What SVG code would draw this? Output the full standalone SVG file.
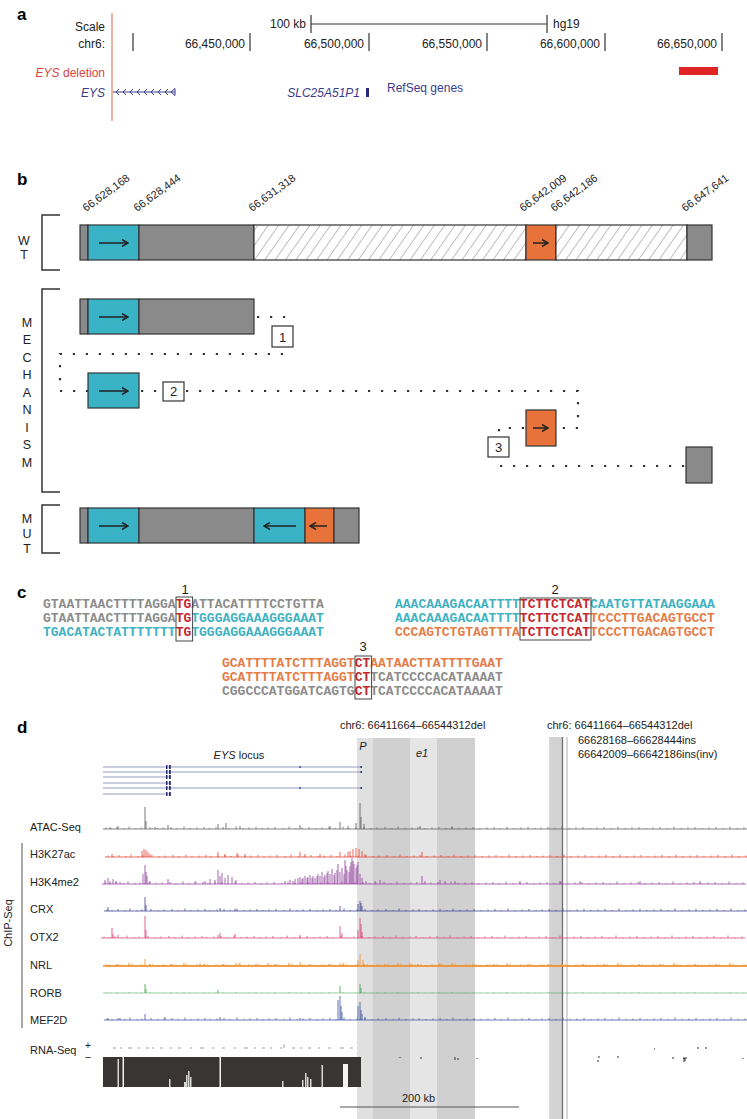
<svg xmlns="http://www.w3.org/2000/svg" xmlns:xlink="http://www.w3.org/1999/xlink" width="747" height="1119" viewBox="0 0 747 1119">
<style>
text{font-family:"Liberation Sans",Arial,sans-serif;fill:#222}
.pl{font-size:17px;font-weight:bold;fill:#000}
.s12{font-size:12px}
.nv{fill:#3a3a8a}
.it{font-style:italic}
.bx{stroke:#333;stroke-width:1.2}
.gr{fill:#8a8a8a}
.cy{fill:#3bb3c6}
.or{fill:#e8733a}
.arr{stroke:#222;stroke-width:1.5;fill:none}
.dot{stroke:#333;stroke-width:2.2;stroke-dasharray:2.2 10.8;fill:none}
.lab{font-size:11px}
.seq{font-family:"Liberation Mono","Courier New",monospace;font-size:13px;font-weight:bold}
.sg{fill:#8c8c8c}.sc{fill:#3fb2c2}.so{fill:#e57c46}.sr{fill:#c4262e}
.sbox{fill:none;stroke:#444;stroke-width:1}
.trk{fill:none;stroke-width:0.8}
.rot{font-size:11px}
.let{font-size:12.5px;text-anchor:middle}
</style>
<defs>
<pattern id="hatch" width="8.5" height="8.5" patternUnits="userSpaceOnUse" patternTransform="rotate(35)">
<rect width="8.5" height="8.5" fill="#fff"/>
<line x1="0" y1="0" x2="0" y2="8.5" stroke="#b8b8b8" stroke-width="1.8"/>
</pattern>
<marker id="ah" markerWidth="8" markerHeight="8" refX="7" refY="4" orient="auto" markerUnits="userSpaceOnUse">
<path d="M1,0.5 L7,4 L1,7.5" fill="none" stroke="#222" stroke-width="1.5"/>
</marker>
<path id="noise" d="M103,0H747M106,0v-1.5M111,0v-1M117,0v-2M124,0v-1M129,0v-2.5M136,0v-1M141,0v-1.5M150,0v-2M157,0v-1M163,0v-1.5M171,0v-2M177,0v-1M184,0v-2.5M190,0v-1M197,0v-1.5M204,0v-2M209,0v-1M216,0v-1.5M223,0v-2M229,0v-1M236,0v-2.5M243,0v-1M249,0v-1.5M256,0v-2M262,0v-1M268,0v-1.5M275,0v-2M283,0v-1M289,0v-2.5M296,0v-1M302,0v-1.5M309,0v-2M316,0v-1M322,0v-1.5M329,0v-2M335,0v-1M343,0v-2.5M349,0v-1M356,0v-1.5M364,0v-2M371,0v-1M377,0v-1.5M385,0v-2M392,0v-1M398,0v-2.5M405,0v-1M412,0v-1.5M418,0v-2M425,0v-1M432,0v-1.5M439,0v-2M446,0v-1M452,0v-2.5M459,0v-1M466,0v-1.5M473,0v-2M480,0v-1M487,0v-1.5M494,0v-2M500,0v-1M507,0v-2.5M514,0v-1M521,0v-1.5M528,0v-2M535,0v-1M541,0v-1.5M548,0v-2M555,0v-1M562,0v-2.5M569,0v-1M576,0v-1.5M583,0v-2M590,0v-1M597,0v-1.5M604,0v-2M611,0v-1M618,0v-2.5M625,0v-1M632,0v-1.5M639,0v-2M646,0v-1M653,0v-1.5M660,0v-2M667,0v-1M674,0v-2.5M681,0v-1M688,0v-1.5M695,0v-2M702,0v-1M709,0v-1.5M716,0v-2M723,0v-1M730,0v-2.5M737,0v-1M744,0v-1.5"/>
</defs>

<!-- ================= PANEL A ================= -->
<g id="panel-a">
<text class="pl" x="17" y="20">a</text>
<text class="s12" x="105" y="31" text-anchor="end">Scale</text>
<text class="s12" x="105" y="48" text-anchor="end">chr6:</text>
<g stroke="#333" stroke-width="1.2">
<line x1="133" y1="33" x2="133" y2="51"/>
<line x1="250" y1="33" x2="250" y2="51"/>
<line x1="369" y1="33" x2="369" y2="51"/>
<line x1="487" y1="33" x2="487" y2="51"/>
<line x1="605" y1="33" x2="605" y2="51"/>
<line x1="722" y1="33" x2="722" y2="51"/>
<line x1="311" y1="24" x2="547" y2="24" stroke-width="1"/>
<line x1="311" y1="15" x2="311" y2="33"/>
<line x1="547" y1="15" x2="547" y2="33"/>
</g>
<text class="s12" x="245" y="48" text-anchor="end">66,450,000</text>
<text class="s12" x="364" y="48" text-anchor="end">66,500,000</text>
<text class="s12" x="482" y="48" text-anchor="end">66,550,000</text>
<text class="s12" x="600" y="48" text-anchor="end">66,600,000</text>
<text class="s12" x="717" y="48" text-anchor="end">66,650,000</text>
<text class="s12" x="306" y="28" text-anchor="end">100 kb</text>
<text class="s12" x="553" y="28">hg19</text>
<line x1="112" y1="13" x2="112" y2="121" stroke="#e39a8a" stroke-width="1.5"/>
<text class="s12" x="105" y="77" text-anchor="end" style="fill:#d9453c"><tspan class="it" style="fill:#d9453c">EYS</tspan> deletion</text>
<rect x="679" y="67" width="39" height="8" fill="#e02424"/>
<text class="s12 nv it" x="105" y="97" text-anchor="end">EYS</text>
<g stroke="#3a3a8a" stroke-width="1" fill="none">
<line x1="113" y1="92" x2="175" y2="92"/>
<path d="M119,89L116,92L119,95M126,89L123,92L126,95M133,89L130,92L133,95M140,89L137,92L140,95M147,89L144,92L147,95M154,89L151,92L154,95M161,89L158,92L161,95M168,89L165,92L168,95M175,88.5L171,92L175,95.5Z"/>
</g>
<text class="s12 nv it" x="360" y="97" text-anchor="end">SLC25A51P1</text>
<rect x="366" y="88" width="3" height="9" fill="#2a2a7a"/>
<text class="s12 nv" x="387" y="92">RefSeq genes</text>
</g>

<!-- ================= PANEL B ================= -->
<text class="pl" x="17" y="185">b</text>
<g id="coords" class="rot">
<text transform="translate(86,212) rotate(-36)">66,628,168</text>
<text transform="translate(137,212) rotate(-36)">66,628,444</text>
<text transform="translate(252,212) rotate(-36)">66,631,318</text>
<text transform="translate(523,212) rotate(-36)">66,642,009</text>
<text transform="translate(554,212) rotate(-36)">66,642,186</text>
<text transform="translate(685,212) rotate(-36)">66,647,641</text>
</g>
<g id="bracket-wt">
<path d="M60,215H42V270H60" fill="none" stroke="#333" stroke-width="1.5"/>
<text class="let" x="24" y="245">W</text>
<text class="let" x="24" y="258.5">T</text>
</g>
<g id="wt-bar">
<rect class="bx gr" x="80" y="225" width="8" height="35"/>
<rect class="bx cy" x="88" y="225" width="51" height="35"/>
<rect class="bx gr" x="139" y="225" width="115" height="35"/>
<rect class="bx" x="254" y="225" width="272" height="35" fill="url(#hatch)"/>
<rect class="bx or" x="526" y="225" width="30" height="35"/>
<rect class="bx" x="556" y="225" width="131" height="35" fill="url(#hatch)"/>
<rect class="bx gr" x="687" y="225" width="25" height="35"/>
<line class="arr" x1="99" y1="243" x2="128" y2="243" marker-end="url(#ah)"/>
<line class="arr" x1="533" y1="243" x2="548" y2="243" marker-end="url(#ah)"/>
</g>
<g id="bracket-mech">
<path d="M60,289H42V492H60" fill="none" stroke="#333" stroke-width="1.5"/>
<text class="let" x="27" y="327">M</text>
<text class="let" x="27" y="344">E</text>
<text class="let" x="27" y="362">C</text>
<text class="let" x="27" y="379">H</text>
<text class="let" x="27" y="397">A</text>
<text class="let" x="27" y="414">N</text>
<text class="let" x="27" y="432">I</text>
<text class="let" x="27" y="449">S</text>
<text class="let" x="27" y="467">M</text>
</g>
<g id="mech-seg1">
<rect class="bx gr" x="80" y="299" width="8" height="35"/>
<rect class="bx cy" x="88" y="299" width="51" height="35"/>
<rect class="bx gr" x="139" y="299" width="115" height="35"/>
<line class="arr" x1="99" y1="317" x2="128" y2="317" marker-end="url(#ah)"/>
</g>
<g id="mech-seg2">
<rect class="bx cy" x="88" y="373" width="51" height="35"/>
<line class="arr" x1="99" y1="391" x2="128" y2="391" marker-end="url(#ah)"/>
</g>
<g id="mech-seg3">
<rect class="bx or" x="526" y="410" width="30" height="36"/>
<line class="arr" x1="533" y1="428" x2="548" y2="428" marker-end="url(#ah)"/>
</g>
<g id="mech-seg4">
<rect class="bx gr" x="686" y="447" width="26" height="36"/>
</g>
<g id="connectors">
<path class="dot" d="M257,317H286"/>
<path class="dot" d="M283,354H60V391H88"/>
<path class="dot" d="M141,391H163"/>
<path class="dot" d="M186,391H578V428H556"/>
<path class="dot" d="M524,428H499V436"/>
<path class="dot" d="M500,466H686"/>
</g>
<g id="junction-1"><rect x="272" y="326" width="21" height="21" fill="#fff" stroke="#333" stroke-width="1.2"/><text x="282.5" y="341.5" font-size="13" text-anchor="middle">1</text></g>
<g id="junction-2"><rect x="163" y="382" width="21" height="19" fill="#fff" stroke="#333" stroke-width="1.2"/><text x="173.5" y="396" font-size="13" text-anchor="middle">2</text></g>
<g id="junction-3"><rect x="488" y="437" width="21" height="20" fill="#fff" stroke="#333" stroke-width="1.2"/><text x="498.5" y="452" font-size="13" text-anchor="middle">3</text></g>
<g id="bracket-mut">
<path d="M60,505H42V553H60" fill="none" stroke="#333" stroke-width="1.5"/>
<text class="let" x="27" y="523">M</text>
<text class="let" x="27" y="538">U</text>
<text class="let" x="27" y="553">T</text>
</g>
<g id="mut-bar">
<rect class="bx gr" x="80" y="508" width="8" height="35"/>
<rect class="bx cy" x="88" y="508" width="51" height="35"/>
<rect class="bx gr" x="139" y="508" width="115" height="35"/>
<rect class="bx cy" x="254" y="508" width="51" height="35"/>
<rect class="bx or" x="305" y="508" width="29" height="35"/>
<rect class="bx gr" x="334" y="508" width="25" height="35"/>
<line class="arr" x1="99" y1="526" x2="128" y2="526" marker-end="url(#ah)"/>
<line class="arr" x1="296" y1="526" x2="264" y2="526" marker-end="url(#ah)"/>
<line class="arr" x1="327" y1="526" x2="310" y2="526" marker-end="url(#ah)"/>
</g>

<!-- ================= PANEL C ================= -->
<text class="pl" x="17" y="598">c</text>
<g id="seq-1">
<text x="185" y="594" font-size="13" text-anchor="middle">1</text>
<text class="seq" x="43" y="608"><tspan class="sg">GTAATTAACTTTTAGGA</tspan><tspan class="sr">TG</tspan><tspan class="sg">ATTACATTTTCCTGTTA</tspan></text>
<text class="seq" x="43" y="622"><tspan class="sg">GTAATTAACTTTTAGGA</tspan><tspan class="sr">TG</tspan><tspan class="sc">TGGGAGGAAAGGGAAAT</tspan></text>
<text class="seq" x="43" y="636"><tspan class="sc">TGACATACTATTTTTTT</tspan><tspan class="sr">TG</tspan><tspan class="sc">TGGGAGGAAAGGGAAAT</tspan></text>
<rect class="sbox" x="176" y="597" width="16.6" height="44"/>
</g>
<g id="seq-2">
<text x="555" y="594" font-size="13" text-anchor="middle">2</text>
<text class="seq" x="395" y="608"><tspan class="sc">AAACAAAGACAATTTT</tspan><tspan class="sr">TCTTCTCAT</tspan><tspan class="sc">CAATGTTATAAGGAAA</tspan></text>
<text class="seq" x="395" y="622"><tspan class="sc">AAACAAAGACAATTTT</tspan><tspan class="sr">TCTTCTCAT</tspan><tspan class="so">TCCCTTGACAGTGCCT</tspan></text>
<text class="seq" x="395" y="636"><tspan class="so">CCCAGTCTGTAGTTTA</tspan><tspan class="sr">TCTTCTCAT</tspan><tspan class="so">TCCCTTGACAGTGCCT</tspan></text>
<rect class="sbox" x="520" y="598" width="71" height="42"/>
</g>
<g id="seq-3">
<text x="363" y="651" font-size="13" text-anchor="middle">3</text>
<text class="seq" x="222" y="667"><tspan class="so">GCATTTTATCTTTAGGT</tspan><tspan class="sr">CT</tspan><tspan class="so">AATAACTTATTTTGAAT</tspan></text>
<text class="seq" x="222" y="681"><tspan class="so">GCATTTTATCTTTAGGT</tspan><tspan class="sr">CT</tspan><tspan class="sg">TCATCCCCACATAAAAT</tspan></text>
<text class="seq" x="222" y="695"><tspan class="sg">CGGCCCATGGATCAGTG</tspan><tspan class="sr">CT</tspan><tspan class="sg">TCATCCCCACATAAAAT</tspan></text>
<rect class="sbox" x="355" y="656" width="16.6" height="43"/>
</g>

<!-- ================= PANEL D ================= -->
<text class="pl" x="17" y="733">d</text>
<g id="shading">
<rect x="357" y="738" width="16" height="381" fill="#e0e0e0"/>
<rect x="373" y="738" width="37" height="381" fill="#d0d0d0"/>
<rect x="410" y="738" width="27" height="381" fill="#e5e5e5"/>
<rect x="437" y="738" width="38" height="381" fill="#d0d0d0"/>
<rect x="551" y="737" width="11" height="382" fill="#d2d2d2"/>
<line x1="550" y1="737" x2="550" y2="1119" stroke="#9a9a9a" stroke-width="0.8"/>
<line x1="567" y1="737" x2="567" y2="1119" stroke="#9a9a9a" stroke-width="0.8"/>
<line x1="562.5" y1="737" x2="562.5" y2="1119" stroke="#6e6e6e" stroke-width="1.3"/>
</g>
<text class="lab" x="340" y="729">chr6: 66411664–66544312del</text>
<text class="lab" x="547" y="729">chr6: 66411664–66544312del</text>
<text class="lab" x="578" y="744">66628168–66628444ins</text>
<text class="lab" x="578" y="758">66642009–66642186ins(inv)</text>
<text class="lab it" x="363" y="750" text-anchor="middle">P</text>
<text class="lab it" x="422" y="757" text-anchor="middle">e1</text>
<g id="eys-locus">
<text class="lab" x="239" y="759" text-anchor="middle"><tspan class="it">EYS</tspan> locus</text>
<g stroke="#7c82b2" stroke-width="0.8">
<line x1="103" y1="767" x2="362" y2="767"/>
<line x1="103" y1="772" x2="362" y2="772"/>
<line x1="103" y1="777" x2="171" y2="777"/>
<line x1="103" y1="783" x2="171" y2="783"/>
<line x1="103" y1="788" x2="362" y2="788"/>
<line x1="103" y1="794" x2="171" y2="794"/>
</g>
<g fill="#2d2f70">
<rect x="166" y="765" width="1.5" height="4"/><rect x="169" y="765" width="1.8" height="4"/>
<rect x="166" y="770" width="1.5" height="4"/><rect x="169" y="770" width="1.8" height="4"/>
<rect x="166" y="775" width="1.5" height="4"/><rect x="169" y="775" width="1.8" height="4"/>
<rect x="166" y="781" width="1.5" height="4"/><rect x="169" y="781" width="1.8" height="4"/>
<rect x="166" y="786" width="1.5" height="4"/><rect x="169" y="786" width="1.8" height="4"/>
<rect x="166" y="792" width="1.5" height="4"/><rect x="169" y="792" width="1.8" height="4"/>
<rect x="299.5" y="766" width="1.2" height="2"/><rect x="299.5" y="787" width="1.2" height="2"/>
<rect x="360.5" y="766" width="1.5" height="2"/><rect x="360.5" y="771" width="1.5" height="2"/><rect x="360.5" y="787" width="1.5" height="2"/>
</g>
</g>
<g id="track-labels" class="lab">
<text x="30" y="831">ATAC-Seq</text>
<text x="30" y="858">H3K27ac</text>
<text x="30" y="886">H3K4me2</text>
<text x="30" y="913">CRX</text>
<text x="30" y="941">OTX2</text>
<text x="30" y="969">NRL</text>
<text x="30" y="997">RORB</text>
<text x="30" y="1024">MEF2D</text>
<text x="30" y="1054">RNA-Seq</text>
<text x="88" y="1049" font-size="10" text-anchor="middle">+</text>
<text x="88" y="1060" font-size="10" text-anchor="middle">–</text>
</g>
<g id="chip-bracket">
<line x1="22" y1="843" x2="22" y2="1028" stroke="#555" stroke-width="1"/>
<text class="lab" transform="translate(12,923) rotate(-90)" text-anchor="middle">ChIP-Seq</text>
</g>
<g id="tracks" class="trk">
<use xlink:href="#noise" transform="translate(0,829)" stroke="#666"/>
<path stroke="#555" d="M110,829v-2M118,829v-3M145,829v-22M146,829v-8M155,829v-2M168,829v-4M218,829v-5M226,829v-6M240,829v-3M300,829v-4M330,829v-3M340,829v-7M348,829v-3M356,829v-6M360,829v-26M361,829v-12M364,829v-5M420,829v-3M452,829v-2"/>
<use xlink:href="#noise" transform="translate(2,857)" stroke="#e7463a"/>
<path stroke="#e53a2e" d="M112,857v-3M142,857v-6M144,857v-8M146,857v-7M148,857v-5M150,857v-3M218,857v-5M225,857v-3M237,857v-4M245,857v-3M300,857v-5M305,857v-3M320,857v-3M340,857v-5M348,857v-5M350,857v-6M353,857v-8M356,857v-9M359,857v-8M362,857v-6M365,857v-3M422,857v-5"/>
<use xlink:href="#noise" transform="translate(-1,884)" stroke="#9a4aa4"/>
<path stroke="#8e3c9a" d="M105,884v-4M108,884v-6M110,884v-3M113,884v-5M116,884v-3M120,884v-2M143,884v-10M145,884v-19M146,884v-12M147,884v-8M150,884v-3M168,884v-5M195,884v-3M205,884v-3M210,884v-5M215,884v-4M218,884v-14M220,884v-8M222,884v-11M225,884v-6M228,884v-9M232,884v-7M236,884v-4M285,884v-3M290,884v-4M293,884v-3M295,884v-5M298,884v-6M300,884v-7M302,884v-5M303,884v-6M305,884v-8M307,884v-6M308,884v-7M310,884v-9M312,884v-6M313,884v-8M315,884v-6M317,884v-8M318,884v-10M320,884v-8M322,884v-12M324,884v-7M325,884v-9M327,884v-11M328,884v-13M330,884v-10M332,884v-15M334,884v-9M335,884v-11M337,884v-14M338,884v-20M340,884v-12M342,884v-16M344,884v-10M345,884v-24M346,884v-18M347,884v-14M349,884v-12M350,884v-18M351,884v-22M352,884v-26M353,884v-23M354,884v-20M356,884v-16M357,884v-19M358,884v-22M360,884v-10M362,884v-6M366,884v-3M375,884v-3M380,884v-4M422,884v-8M425,884v-3M440,884v-4M445,884v-3M455,884v-3M520,884v-3M560,884v-3M580,884v-3M640,884v-3M700,884v-3"/>
<use xlink:href="#noise" transform="translate(1,911)" stroke="#454896"/>
<path stroke="#3b3d8c" d="M108,911v-4M145,911v-14M146,911v-6M220,911v-3M235,911v-2M340,911v-5M358,911v-7M360,911v-10M361,911v-8M362,911v-5"/>
<use xlink:href="#noise" transform="translate(-2,938)" stroke="#d8507f"/>
<path stroke="#d63a72" d="M112,938v-10M113,938v-4M118,938v-3M145,938v-22M146,938v-8M218,938v-3M220,938v-5M235,938v-4M300,938v-3M340,938v-12M342,938v-5M358,938v-8M360,938v-20M361,938v-14M362,938v-6"/>
<use xlink:href="#noise" transform="translate(0,966)" stroke="#f09030" stroke-width="1.4"/>
<use xlink:href="#noise" transform="translate(3,966)" stroke="#f09030"/>
<path stroke="#f08c28" d="M145,966v-7M200,966v-3M240,966v-3M268,966v-3M300,966v-4M340,966v-3M358,966v-6M360,966v-12M363,966v-6M410,966v-3M440,966v-3"/>
<use xlink:href="#noise" transform="translate(0,993) scale(1,0.4)" stroke="#4aa856"/>
<path stroke="#3aa048" d="M145,993v-9M146,993v-4M218,993v-3M340,993v-7M360,993v-9M361,993v-5"/>
<use xlink:href="#noise" transform="translate(1,1020)" stroke="#4a5ca8"/>
<path stroke="#3a50a0" d="M108,1020v-2M120,1020v-2M145,1020v-6M165,1020v-3M220,1020v-3M300,1020v-2M338,1020v-20M340,1020v-24M341,1020v-14M342,1020v-8M358,1020v-14M360,1020v-18M361,1020v-10M362,1020v-6M365,1020v-3"/>
</g>
<g id="rna-seq">
<path stroke="#888" stroke-width="0.8" d="M113,1048h3M120,1048h2M128,1048h4M138,1048h2M146,1048h3M152,1048h2M160,1048h3M170,1048h2M178,1048h3M190,1048h2M200,1048h4M212,1048h2M222,1048h3M234,1048h2M244,1048h4M254,1048h2M262,1048h3M270,1048h2M280,1048h2M284,1048v-4M292,1048h3M300,1048h2M308,1048h3M318,1048h2M328,1048h3M340,1048h4M350,1048h3"/>
<rect x="103" y="1057" width="258" height="30" fill="#3a3535"/>
<g fill="#d8d8d8">
<rect x="117.5" y="1059" width="1.5" height="28"/>
<rect x="122.5" y="1057" width="1.5" height="30" fill="#f4f4f4"/>
<rect x="169" y="1079" width="1.5" height="8"/>
<rect x="184" y="1082" width="2" height="5"/>
<rect x="186" y="1075" width="1.5" height="12"/>
<rect x="188" y="1071" width="1.5" height="16"/>
<rect x="190" y="1077" width="1.5" height="10"/>
<rect x="219.5" y="1057" width="1.5" height="30" fill="#f4f4f4"/>
<rect x="282" y="1081" width="1.5" height="6"/>
<rect x="302" y="1080" width="1.5" height="7"/>
<rect x="305" y="1073" width="1.5" height="14"/>
<rect x="307" y="1077" width="1.5" height="10"/>
<rect x="310" y="1079" width="1.5" height="8"/>
<rect x="321.5" y="1065" width="1.5" height="22"/>
<rect x="343" y="1064" width="5" height="23" fill="#f4f4f4"/>
</g>
<path stroke="#333" stroke-width="1" d="M400,1057v1M420,1058h2M455,1057v3M458,1058v2M477,1058v1M598,1057h2M597,1061h2M683,1058h4M684,1058v4M685,1058v3M672,1058h2M743,1058v1M654,1049h1M697,1048h2M705,1048h2M617,1057h2"/>
</g>
<g id="scalebar-200kb">
<line x1="340" y1="1107" x2="519" y2="1107" stroke="#555" stroke-width="1"/>
<text class="lab" x="402" y="1102">200 kb</text>
</g>
</svg>
